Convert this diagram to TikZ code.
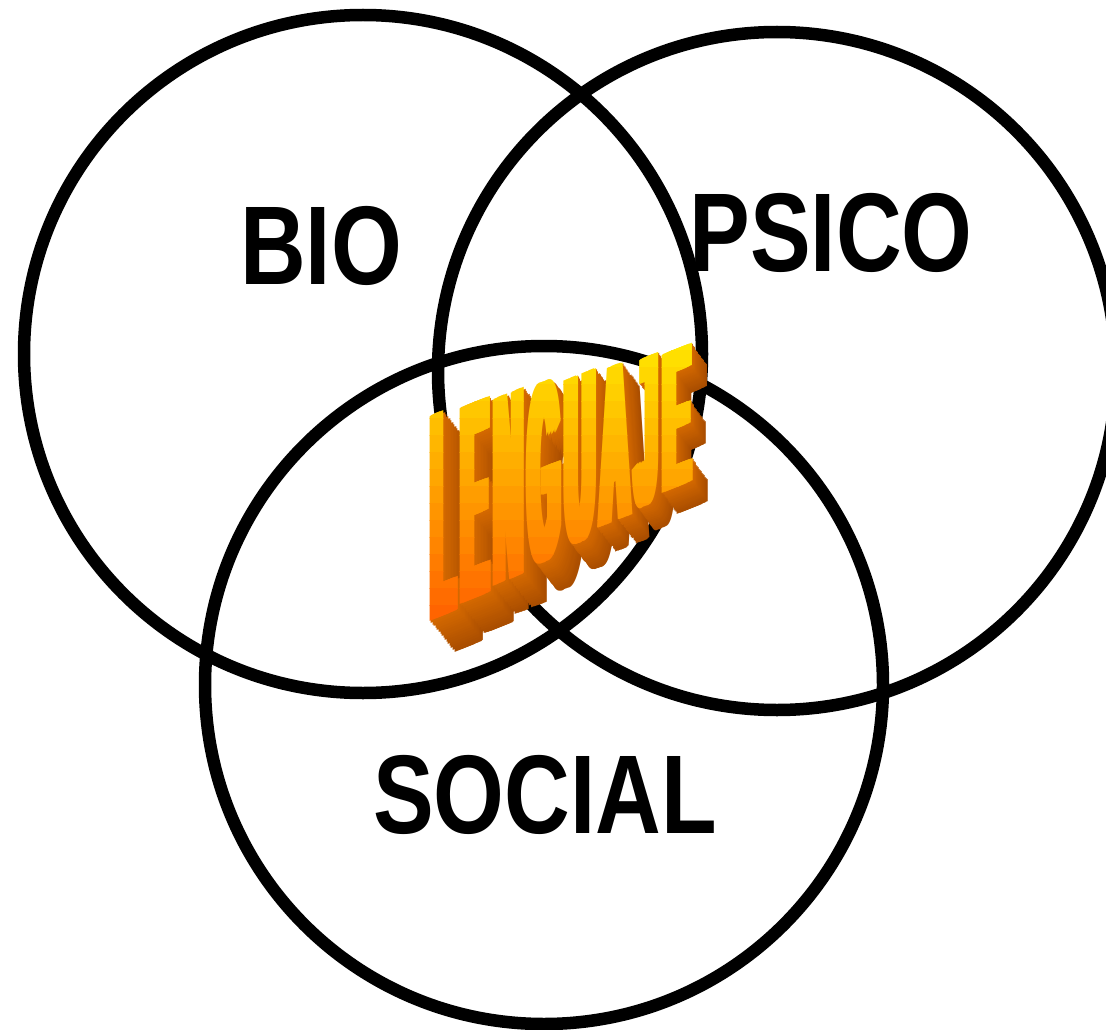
\documentclass[tikz,border=0pt]{standalone}
\usepackage{fontspec}
\setmainfont{Liberation Sans}
\newfontfamily\wordfont{Liberation Sans}
\newcommand\fatglyph[1]{\rlap{#1}\kern3.667pt\rlap{#1}\kern3.667pt\rlap{#1}\kern3.667pt\rlap{#1}\kern3.667pt\rlap{#1}\kern3.667pt\rlap{#1}\kern3.667pt#1}
\newcommand\lettergeom[3]{%
  \pgfmathsetmacro\Lxl{427.1+0.394*#2}%
  \pgfmathsetmacro\Lxm{\Lxl+0.5*(#1+22)*0.394}%
  \pgfmathsetmacro\Lh{217-0.298*(\Lxm-430)}%
  \pgfmathsetmacro\Lyb{623-0.55*(\Lxm-430)}%
  \pgfmathsetmacro\Lsy{\Lh/71.6}%
  \pgfmathsetmacro\Lex{(25-10*#2/589.8)*#3}%
  \pgfmathsetmacro\Ley{(31-10*#2/589.8)*#3}%
  \pgfmathsetmacro\Ltx{\Lxl+\Lex}%
  \pgfmathsetmacro\Lty{-\Lyb-0.4*(\Lxm-\Lxl)-\Ley}%
}
\def\wordletters{L/61.1/0, E/66.7/77.1, N/72.2/159.8, G/77.8/248.0, U/72.2/341.8, A/72.2/430.0, J/55.6/518.2, E/66.7/589.8}
\tikzset{
  ring/.style={circle, draw=black, line width=12.5pt, minimum size=678pt, inner sep=0pt},
  lbl/.style={inner sep=0pt, font=\bfseries\fontsize{91}{91}\selectfont},
  wl/.style={anchor=base west, inner sep=0pt, outer sep=0pt, transform shape,
    font={\wordfont\bfseries\fontsize{100}{100}\selectfont}}
}
\begin{document}
\begin{tikzpicture}[x=1pt,y=1pt]
\useasboundingbox (0,0) rectangle (1106,-1030);
\fill[white] (0,0) rectangle (1106,-1030);
% circles
\node[ring] (bio) at (363,-354) {};
\node[ring] (psico) at (777,-371) {};
\node[ring] (social) at (544,-685) {};
% labels
\node[lbl] (tbio) at (321,-246) {\scalebox{1}[1.23]{BIO}};
\node[lbl] (tpsico) at (831,-233) {\scalebox{1}[1.23]{PSICO}};
\node[lbl] (tsocial) at (545,-795) {\scalebox{1}[1.23]{SOCIAL}};
% LENGUAJE extrusion
\foreach \ch/\adv/\P [count=\i] in \wordletters {
  \foreach \j in {16,...,1} {
    \pgfmathsetmacro\tt{\j/16}
    \pgfmathtruncatemacro\er{214-44*\tt}
    \pgfmathtruncatemacro\eg{106-28*\tt}
    \definecolor{extc}{RGB}{\er,\eg,0}
    \lettergeom{\adv}{\P}{\tt}
    \begin{scope}[cm={0.394,0.1576,0,\Lsy,(\Ltx,\Lty)}]
      \node[wl, text=extc] (e\i-\j) at (0,0) {\fatglyph{\ch}};
    \end{scope}
  }
}
% LENGUAJE front faces with gradient bands
\foreach \k in {0,...,17} {
  \pgfmathsetmacro\ya{333+\k*17}
  \pgfmathsetmacro\yz{\ya+17.8}
  \pgfmathtruncatemacro\gg{232-(\k/17)*140}
  \definecolor{bandc}{RGB}{255,\gg,0}
  \begin{scope}
    \clip (0,-\ya) rectangle (1106,-\yz);
    \foreach \ch/\adv/\P [count=\i] in \wordletters {
      \lettergeom{\adv}{\P}{0}
      \begin{scope}[cm={0.394,0.1576,0,\Lsy,(\Ltx,\Lty)}]
        \node[wl, text=bandc] (f\k-\i) at (0,0) {\fatglyph{\ch}};
      \end{scope}
    }
  \end{scope}
}
\end{tikzpicture}
\end{document}
